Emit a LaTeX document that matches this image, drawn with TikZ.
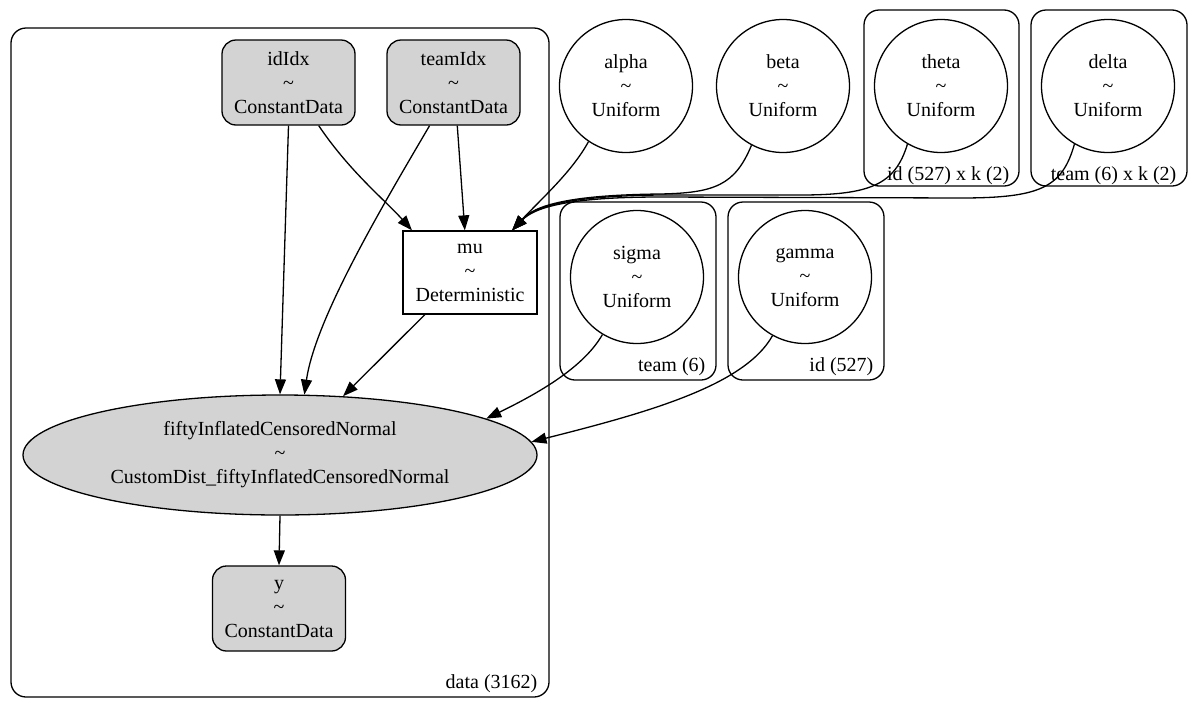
\documentclass[tikz,border=0pt]{standalone}
\usepackage{fontspec}
\setmainfont{Liberation Serif}
\usetikzlibrary{arrows.meta,shapes.geometric}
\definecolor{gvgray}{HTML}{D3D3D3}

\begin{document}
\begin{tikzpicture}[x=1pt,y=-1pt,line width=1.3pt,font=\fontsize{20}{24}\selectfont,
  datanode/.style={draw,fill=gvgray,rounded corners=14pt,minimum width=133pt,minimum height=85pt,inner sep=0pt,align=center},
  rvnode/.style={draw,circle,minimum size=133pt,inner sep=0pt,align=center},
  detnode/.style={draw,rectangle,minimum width=134pt,minimum height=83pt,inner sep=0pt,align=center},
  plate/.style={draw,rounded corners=15pt},
  platelbl/.style={anchor=base east,inner sep=0pt},
  edge/.style={-{Triangle[length=15pt,width=11pt]}}]
\useasboundingbox (0,0) rectangle (1200,710);
\draw[plate] (11,28) rectangle (549,697);\node[platelbl] (dataLbl) at (538,688) {data (3162)};
\draw[plate] (864,10) rectangle (1019,186);\node[platelbl] (idkLbl) at (1010,180) {id (527) x k (2)};
\draw[plate] (1031,10) rectangle (1187,186);\node[platelbl] (teamkLbl) at (1177,180) {team (6) x k (2)};
\draw[plate] (560,202) rectangle (716,380);\node[platelbl] (teamLbl) at (706,371) {team (6)};
\draw[plate] (728,202) rectangle (884,380);\node[platelbl] (idLbl) at (874,371) {id (527)};
\node[datanode] (idIdx) at (288.5,82.5) {idIdx\\\textasciitilde\\ConstantData};
\node[datanode] (teamIdx) at (453.5,82.5) {teamIdx\\\textasciitilde\\ConstantData};
\node[detnode] (mu) at (470,272.5) {mu\\\textasciitilde\\Deterministic};
\node[rvnode] (alpha) at (626,86) {alpha\\\textasciitilde\\Uniform};
\node[rvnode] (beta) at (783,86) {beta\\\textasciitilde\\Uniform};
\node[rvnode] (theta) at (941,86) {theta\\\textasciitilde\\Uniform};
\node[rvnode] (delta) at (1108,86) {delta\\\textasciitilde\\Uniform};
\node[rvnode] (sigma) at (637,277) {sigma\\\textasciitilde\\Uniform};
\node[rvnode] (gamma) at (805,277) {gamma\\\textasciitilde\\Uniform};
\node[draw,ellipse,fill=gvgray,minimum width=514pt,minimum height=120pt,inner sep=0pt,align=center] (fifty) at (280,455) {fiftyInflatedCensoredNormal\\\textasciitilde\\CustomDist\_fiftyInflatedCensoredNormal};
\node[datanode] (y) at (279,608.5) {y\\\textasciitilde\\ConstantData};
\draw[edge] (idIdx.-55) .. controls (350,172) and (385,200) .. (mu.144);
\draw[edge] (teamIdx.-85) -- (mu.97);
\draw[edge] (alpha.-124) .. controls (572,172) and (540,200) .. (mu.45);
\draw[edge] (beta.-118) .. controls (735,185) and (715,193) .. (660,194) .. controls (570,195) and (535,205) .. (mu.45);
\draw[edge] (theta.-120) .. controls (895,185) and (870,195) .. (800,195) -- (660,195) .. controls (570,196) and (535,206) .. (mu.45);
\draw[edge] (delta.-120) .. controls (1062,188) and (1040,198) .. (960,198) -- (660,197) .. controls (570,197) and (535,207) .. (mu.45);
\draw[edge] (idIdx.south) -- (fifty.north);
\draw[edge] (teamIdx.-119) .. controls (380,210) and (315,320) .. (fifty.68);
\draw[edge] (mu.-137) -- (fifty.43);
\draw[edge] (sigma.-121) .. controls (585,365) and (545,390) .. (fifty.10);
\draw[edge] (gamma.-119) .. controls (745,385) and (650,412) .. (fifty.3);
\draw[edge] (fifty.south) -- (y.north);
\end{tikzpicture}
\end{document}
